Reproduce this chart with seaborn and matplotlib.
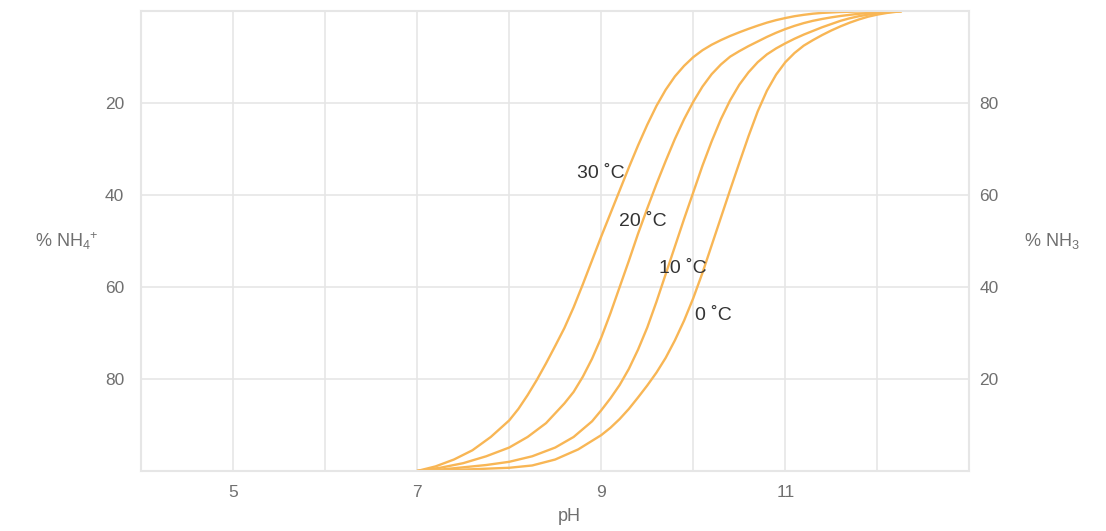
import pandas as pd
import seaborn as sns
import matplotlib.pyplot as plt

# pH vs % NH4+
ph_30 = [7.0, 7.2, 7.4, 7.6, 7.8, 8.0, 8.1, 8.2, 8.3, 8.4, 8.5, 8.6, 8.7, 8.8, 8.9, 9.0, 9.1, 9.2, 9.3, 9.4,
         9.5, 9.6, 9.7, 9.8, 9.9, 10.0, 10.1, 10.2, 10.3, 10.4, 10.5, 10.6, 10.7, 10.8, 10.9, 11.0, 11.1, 11.2,
         11.3, 11.4, 11.6, 11.8, 12.0, 12.26]
nh4_30 = [100, 99.0, 97.5, 95.5, 92.6, 89.0, 86.5, 83.5, 80.2, 76.6, 72.8, 68.9, 64.4, 59.4, 54.2, 49.0, 44.0,
          39.0, 34.0, 29.2, 24.7, 20.6, 17.1, 14.2, 11.9, 10.0, 8.5, 7.3, 6.3, 5.4, 4.6, 3.85, 3.15, 2.5, 1.95,
          1.5, 1.1, 0.8, 0.55, 0.38, 0.18, 0.08, 0.03, 0]

ph_20 = [7.0, 7.25, 7.5, 7.75, 8.0, 8.2, 8.4, 8.6, 8.7, 8.8, 8.9, 9.0, 9.1, 9.2, 9.3, 9.4, 9.5, 9.6, 9.7, 9.8,
         9.9, 10.0, 10.1, 10.2, 10.3, 10.4, 10.5, 10.6, 10.7, 10.8, 10.9, 11.0, 11.1, 11.2, 11.3, 11.4, 11.5,
         11.6, 11.7, 11.8, 11.9, 12.0, 12.1, 12.26]
nh4_20 = [100, 99.3, 98.3, 96.8, 94.9, 92.6, 89.6, 85.3, 82.8, 79.5, 75.6, 71.0, 65.7, 60.0, 54.3, 48.4, 42.9,
          37.6, 32.6, 27.8, 23.5, 19.7, 16.4, 13.7, 11.6, 9.9, 8.7, 7.6, 6.6, 5.6, 4.7, 3.9, 3.2, 2.6, 2.1, 1.7,
          1.35, 1.05, 0.8, 0.58, 0.4, 0.25, 0.12, 0]

ph_10 = [7.0, 7.25, 7.5, 7.75, 8.0, 8.25, 8.5, 8.7, 8.9, 9.0, 9.1, 9.2, 9.3, 9.4, 9.5, 9.6, 9.7, 9.8, 9.9, 10.0,
         10.1, 10.2, 10.3, 10.4, 10.5, 10.6, 10.7, 10.8, 10.9, 11.0, 11.1, 11.2, 11.3, 11.4, 11.5, 11.6, 11.7,
         11.8, 11.9, 12.0, 12.1, 12.26]
nh4_10 = [100, 99.7, 99.2, 98.7, 98.0, 96.8, 94.9, 92.6, 89.2, 86.8, 84.2, 81.3, 77.8, 73.6, 68.8, 63.2, 57.2,
          51.2, 45.2, 39.4, 33.6, 28.3, 23.5, 19.4, 16.0, 13.3, 11.1, 9.4, 8.1, 7.0, 6.0, 5.1, 4.3, 3.5, 2.8,
          2.1, 1.55, 1.1, 0.75, 0.45, 0.22, 0]

ph_0 = [7.0, 7.5, 8.0, 8.25, 8.5, 8.75, 9.0, 9.1, 9.2, 9.3, 9.4, 9.5, 9.6, 9.7, 9.8, 9.9, 10.0, 10.1, 10.2, 10.3,
        10.4, 10.5, 10.6, 10.7, 10.8, 10.9, 11.0, 11.1, 11.2, 11.3, 11.4, 11.5, 11.6, 11.7, 11.8, 11.9, 12.0,
        12.1, 12.26]
nh4_0 = [100, 99.7, 99.3, 98.8, 97.5, 95.3, 92.2, 90.6, 88.7, 86.5, 84.0, 81.4, 78.6, 75.4, 71.6, 67.3, 62.4,
         56.9, 50.9, 44.9, 38.9, 33.0, 27.2, 21.8, 17.3, 13.8, 11.1, 9.1, 7.5, 6.3, 5.2, 4.2, 3.3, 2.5, 1.8, 1.2,
         0.75, 0.4, 0]

temps = ["30 ˚C", "20 ˚C", "10 ˚C", "0 ˚C"]
label_ph = [8.74, 9.19, 9.63, 10.02]
label_nh4 = [35.4, 45.7, 55.9, 66.1]

x_ticks = [5, 7, 9, 11]
x_minor = [6, 8, 10, 12]
left_ticks = [20, 40, 60, 80]

df = pd.concat([
    pd.DataFrame({"pH": ph_30, "nh4": nh4_30, "temp": temps[0]}),
    pd.DataFrame({"pH": ph_20, "nh4": nh4_20, "temp": temps[1]}),
    pd.DataFrame({"pH": ph_10, "nh4": nh4_10, "temp": temps[2]}),
    pd.DataFrame({"pH": ph_0, "nh4": nh4_0, "temp": temps[3]}),
])

sns.set_style("whitegrid")
plt.rcParams["font.family"] = ["Liberation Sans", "DejaVu Sans"]
plt.rcParams["mathtext.fontset"] = "custom"
plt.rcParams["mathtext.rm"] = "Liberation Sans"
plt.rcParams["mathtext.it"] = "Liberation Sans"

grid_col = "#e6e6e6"
text_col = "#707070"
line_col = "#f8b655"

fig = plt.figure(figsize=(11.06, 5.31), dpi=100)
ax = fig.add_axes([0.1275, 0.113, 0.749, 0.866])

sns.lineplot(data=df, x="pH", y="nh4", units="temp", estimator=None, sort=False,
             color=line_col, linewidth=1.7, ax=ax)

ax.set_xlim(4, 13)
ax.set_ylim(100, 0)
ax.set_xticks(x_ticks)
ax.set_xticks(x_minor, minor=True)
ax.set_yticks(left_ticks)
ax.grid(True, which="both", color=grid_col, linewidth=1.2)
ax.tick_params(axis="both", which="both", length=0, labelsize=12.5, labelcolor=text_col)
ax.tick_params(axis="y", pad=12)
ax.tick_params(axis="x", pad=10)
for s in ax.spines.values():
    s.set_color(grid_col)
    s.set_linewidth(1.5)

ax.set_xlabel("pH", fontsize=13, color=text_col, va="center")
ax.xaxis.set_label_coords(0.517, -0.1)
ax.set_ylabel(r"% NH$_{4}$$^{+}$", fontsize=13, color=text_col, rotation=0, va="center", ha="center")
ax.yaxis.set_label_coords(-0.09, 0.5)

ax2 = ax.twinx()
ax2.set_ylim(0, 100)
ax2.set_yticks(left_ticks)
ax2.grid(False)
ax2.tick_params(axis="y", length=0, labelsize=12.5, labelcolor=text_col, pad=7)
for s in ax2.spines.values():
    s.set_visible(False)
ax2.set_ylabel(r"% NH$_{3}$", fontsize=13, color=text_col, rotation=0, va="center", ha="center")
ax2.yaxis.set_label_coords(1.1, 0.5)

for t, xp, yp in zip(temps, label_ph, label_nh4):
    ax.text(xp, yp, t, fontsize=14, color="#333333", ha="left", va="center")

plt.savefig("out.png", dpi=100)
